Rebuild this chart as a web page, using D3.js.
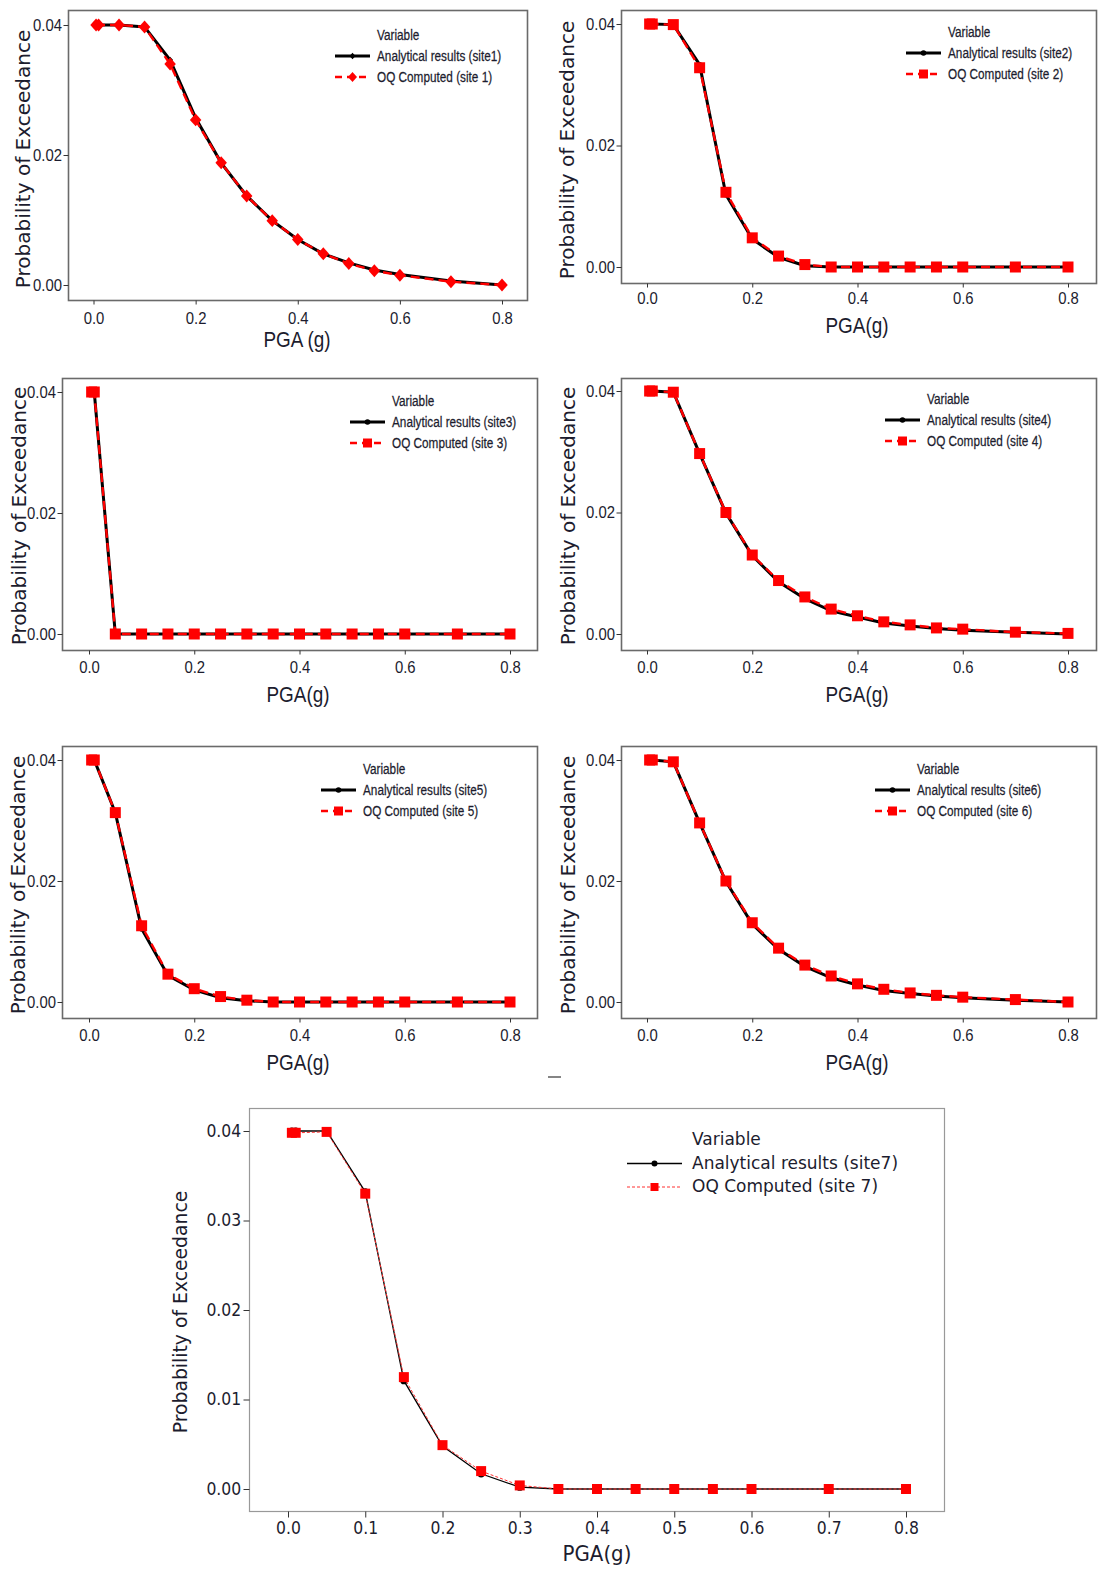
<!DOCTYPE html>
<html lang="en">
<head>
    <meta charset="UTF-8">
    <title>Hazard curves: analytical vs OQ computed</title>
    <script src="https://d3js.org/d3.v7.min.js"></script>
    <style>
        body {
            margin: 0;
            background: #fff;
        }
        svg {
            display: block;
        }
        .tick line {
            stroke: #333;
        }
        .narrow {
            font-family: "Liberation Sans", Arial, sans-serif;
        }
        .wide {
            font-family: "DejaVu Sans", Verdana, sans-serif;
        }
    </style>
</head>
<body>
<div id="chart"></div>

<script>

    // PGA levels (g), shared by all sites
    var pga = [0.005, 0.01, 0.05, 0.1, 0.15, 0.2, 0.25, 0.3, 0.35, 0.4, 0.45, 0.5, 0.55, 0.6, 0.7, 0.8];

    // probability of exceedance
    var site1Analytical = [0.0400, 0.0400, 0.0400, 0.0397, 0.0346, 0.0257, 0.0188, 0.0137, 0.0099, 0.0070, 0.0048, 0.0034, 0.0023, 0.0016, 0.0006, 0.0000];
    var site1OQ         = [0.0400, 0.0400, 0.0400, 0.0397, 0.0340, 0.0254, 0.0188, 0.0137, 0.0099, 0.0070, 0.0048, 0.0033, 0.0022, 0.0015, 0.0005, 0.0000];

    var site2Analytical = [0.0400, 0.0400, 0.0399, 0.0333, 0.0119, 0.0046, 0.0016, 0.0002, 0, 0, 0, 0, 0, 0, 0, 0];
    var site2OQ         = [0.0400, 0.0400, 0.0399, 0.0328, 0.0123, 0.0048, 0.0018, 0.0004, 0, 0, 0, 0, 0, 0, 0, 0];

    var site3Analytical = [0.0400, 0.0400, 0, 0, 0, 0, 0, 0, 0, 0, 0, 0, 0, 0, 0, 0];
    var site3OQ         = [0.0400, 0.0400, 0, 0, 0, 0, 0, 0, 0, 0, 0, 0, 0, 0, 0, 0];

    var site4Analytical = [0.0400, 0.0400, 0.0398, 0.0297, 0.0199, 0.0129, 0.0086, 0.0058, 0.0038, 0.0028, 0.0018, 0.0013, 0.0009, 0.0006, 0.0003, 0.0000];
    var site4OQ         = [0.0400, 0.0400, 0.0398, 0.0297, 0.0200, 0.0130, 0.0088, 0.0061, 0.0041, 0.0030, 0.0020, 0.0015, 0.0010, 0.0008, 0.0003, 0.0001];

    var site5Analytical = [0.0400, 0.0400, 0.0313, 0.0121, 0.0044, 0.0020, 0.0007, 0.0002, 0, 0, 0, 0, 0, 0, 0, 0];
    var site5OQ         = [0.0400, 0.0400, 0.0313, 0.0126, 0.0046, 0.0022, 0.0009, 0.0003, 0, 0, 0, 0, 0, 0, 0, 0];

    var site6Analytical = [0.0400, 0.0400, 0.0397, 0.0296, 0.0199, 0.0129, 0.0087, 0.0059, 0.0040, 0.0028, 0.0019, 0.0014, 0.0010, 0.0007, 0.0003, 0.0000];
    var site6OQ         = [0.0400, 0.0400, 0.0397, 0.0296, 0.0200, 0.0131, 0.0089, 0.0061, 0.0043, 0.0030, 0.0021, 0.0015, 0.0011, 0.0008, 0.0004, 0.0000];

    var site7Analytical = [0.0400, 0.0400, 0.0400, 0.0332, 0.0121, 0.0048, 0.0017, 0.0002, 0, 0, 0, 0, 0, 0, 0, 0];
    var site7OQ         = [0.0398, 0.0398, 0.0399, 0.0330, 0.0125, 0.0049, 0.0020, 0.0004, 0, 0, 0, 0, 0, 0, 0, 0];

    // legend entries and axis titles
    var analyticalNames = ["Analytical results (site1)", "Analytical results (site2)", "Analytical results (site3)",
        "Analytical results (site4)", "Analytical results (site5)", "Analytical results (site6)", "Analytical results (site7)"];
    var oqNames = ["OQ Computed (site 1)", "OQ Computed (site 2)", "OQ Computed (site 3)",
        "OQ Computed (site 4)", "OQ Computed (site 5)", "OQ Computed (site 6)", "OQ Computed (site 7)"];
    var xTitles = ["PGA (g)", "PGA(g)", "PGA(g)", "PGA(g)", "PGA(g)", "PGA(g)", "PGA(g)"];
    var yTitle = "Probability of Exceedance";
    var legendTitle = "Variable";

    // tick values
    var xTicksSmall = [0, 0.2, 0.4, 0.6, 0.8];
    var yTicksSmall = [0, 0.02, 0.04];
    var xTicksBig = [0, 0.1, 0.2, 0.3, 0.4, 0.5, 0.6, 0.7, 0.8];
    var yTicksBig = [0, 0.01, 0.02, 0.03, 0.04];

    var analytical = [site1Analytical, site2Analytical, site3Analytical, site4Analytical, site5Analytical, site6Analytical, site7Analytical];
    var computed = [site1OQ, site2OQ, site3OQ, site4OQ, site5OQ, site6OQ, site7OQ];

    // panel geometry: frame box, scale ranges, label positions
    var panels = [
        {frame: [68, 10, 527, 300], x: [93.5, 502], y: [285, 25], xLab: 318, xTitle: [297, 347], yTitle: [30, 159],
            legend: [335, 35, 21], marker: "diamond", big: false},
        {frame: [621, 10, 1096, 283], x: [647, 1068], y: [267, 24], xLab: 298, xTitle: [857, 333], yTitle: [574, 150],
            legend: [906, 32, 21], marker: "square", big: false},
        {frame: [62, 378, 537, 650], x: [89, 510], y: [634, 392], xLab: 667, xTitle: [298, 702], yTitle: [26, 516],
            legend: [350, 401, 21], marker: "square", big: false},
        {frame: [621, 378, 1096, 650], x: [647, 1068], y: [634, 391], xLab: 667, xTitle: [857, 702], yTitle: [575, 516],
            legend: [885, 399, 21], marker: "square", big: false},
        {frame: [62, 746, 537, 1018], x: [89, 510], y: [1002, 760], xLab: 1035, xTitle: [298, 1070], yTitle: [25, 885],
            legend: [321, 769, 21], marker: "square", big: false},
        {frame: [621, 746, 1096, 1018], x: [647, 1068], y: [1002, 760], xLab: 1035, xTitle: [857, 1070], yTitle: [575, 885],
            legend: [875, 769, 21], marker: "square", big: false},
        {frame: [249, 1108, 944, 1511], x: [288, 906], y: [1489, 1131], xLab: 1528, xTitle: [597, 1561], yTitle: [187, 1312],
            legend: [627, 1140, 23.5], marker: "square", big: true}
    ];

    var width = 1104,
        height = 1579;

    var textColor = "#1c1c2e";

    // rhombus marker used for site 1
    var rhombus = {
        draw: function (context, size) {
            var w = Math.sqrt(size) * 0.5, h = w * 1.12;
            context.moveTo(0, -h);
            context.lineTo(w, 0);
            context.lineTo(0, h);
            context.lineTo(-w, 0);
            context.closePath();
        }
    };

    var svg = d3.select("#chart").append("svg")
        .attr("width", width)
        .attr("height", height);

    panels.forEach(function (p, i) {
        drawPanel(p, i);
    });

    // small stray dash below the middle row
    svg.append("line")
        .attr("x1", 548).attr("x2", 561)
        .attr("y1", 1077).attr("y2", 1077)
        .attr("stroke", "#333").attr("stroke-width", 1.2);

    function drawPanel(p, i) {
        var g = svg.append("g");
        var big = p.big;

        var x = d3.scaleLinear().domain([0, 0.8]).range(p.x);
        var y = d3.scaleLinear().domain([0, 0.04]).range(p.y);

        // frame
        g.append("rect")
            .attr("x", p.frame[0] + 0.5)
            .attr("y", p.frame[1] + 0.5)
            .attr("width", p.frame[2] - p.frame[0])
            .attr("height", p.frame[3] - p.frame[1])
            .attr("fill", "none")
            .attr("stroke", big ? "#999" : "#6a6a6a")
            .attr("stroke-width", big ? 1.2 : 1.6);

        // axes
        var yAxis = g.append("g")
            .attr("class", big ? "wide" : "narrow")
            .attr("transform", "translate(" + (p.frame[0] + 0.5) + ",0)")
            .call(d3.axisLeft(y)
                .tickValues(big ? yTicksBig : yTicksSmall)
                .tickFormat(d3.format(".2f"))
                .tickSize(big ? 6 : 5)
                .tickPadding(big ? 3 : 2));
        var xAxis = g.append("g")
            .attr("class", big ? "wide" : "narrow")
            .attr("transform", "translate(0," + (p.frame[3] + 0.5) + ")")
            .call(d3.axisBottom(x)
                .tickValues(big ? xTicksBig : xTicksSmall)
                .tickFormat(d3.format(".1f"))
                .tickSize(big ? 6 : 4));

        [yAxis, xAxis].forEach(function (a) {
            a.select(".domain").remove();
            a.selectAll("text")
                .attr("fill", textColor)
                .style("font-size", big ? "17px" : "16px");
        });
        yAxis.selectAll("text")
            .attr("transform", big ? "scale(0.92,1)" : "scale(0.93,1)");
        xAxis.selectAll("text")
            .attr("y", 0)
            .attr("dy", "0.35em")
            .attr("transform", "translate(0," + (p.xLab - p.frame[3]) + ") scale(" + (big ? 0.92 : 0.93) + ",1)");

        // axis titles
        g.append("text")
            .attr("class", big ? "wide" : "narrow")
            .attr("transform", "translate(" + p.xTitle[0] + "," + p.xTitle[1] + ") scale(" + (big ? 0.9 : 0.86) + ",1)")
            .attr("text-anchor", "middle")
            .style("font-size", "22px")
            .attr("fill", textColor)
            .text(xTitles[i]);

        g.append("text")
            .attr("class", "wide")
            .attr("transform", "translate(" + p.yTitle[0] + "," + p.yTitle[1] + ") rotate(-90)")
            .attr("text-anchor", "middle")
            .style("font-size", big ? "18.8px" : "20px")
            .attr("fill", textColor)
            .text(yTitle);

        // curves
        var line = d3.line()
            .x(function (d) { return x(d[0]); })
            .y(function (d) { return y(d[1]); });

        var blackPts = pga.map(function (v, k) { return [v, analytical[i][k]]; });
        var redPts = pga.map(function (v, k) { return [v, computed[i][k]]; });

        g.append("path")
            .datum(blackPts)
            .attr("d", line)
            .attr("fill", "none")
            .attr("stroke", "#000")
            .attr("stroke-width", big ? 1.3 : 3);

        drawMarkers(g, blackPts, x, y, p.marker === "diamond" ? "diamond" : "circle", "#000", p.marker === "diamond" ? 6 : (big ? 3.6 : 2.8));

        g.append("path")
            .datum(redPts)
            .attr("d", line)
            .attr("fill", "none")
            .attr("stroke", big ? "#ff3030" : "#ff0000")
            .attr("stroke-width", big ? 1 : 2.4)
            .attr("stroke-dasharray", big ? "3,2" : "9,5");

        drawMarkers(g, redPts, x, y, p.marker, "#ff0000", p.marker === "diamond" ? 11.5 : (big ? 5 : 5.5));

        // legend
        var lx = p.legend[0], ly = p.legend[1], step = p.legend[2];
        var lineLen = big ? 55 : 35;
        var gap = big ? 10 : 7;
        var lg = g.append("g").attr("class", big ? "wide" : "narrow");

        var rows = [
            {name: legendTitle},
            {name: analyticalNames[i], color: "#000", width: big ? 1.3 : 3, dash: null,
                shape: p.marker === "diamond" ? "diamond" : "circle", size: p.marker === "diamond" ? 6 : (big ? 3 : 2.8)},
            {name: oqNames[i], color: big ? "#ff3030" : "#ff0000", width: big ? 1 : 2.4, dash: big ? "3,2" : "7,5",
                shape: p.marker, size: p.marker === "diamond" ? 9 : (big ? 4 : 4.5)}
        ];
        rows.forEach(function (r, k) {
            var yy = ly + step * k;
            if (k > 0) {
                lg.append("line")
                    .attr("x1", lx).attr("x2", lx + lineLen)
                    .attr("y1", yy).attr("y2", yy)
                    .attr("stroke", r.color)
                    .attr("stroke-width", r.width)
                    .attr("stroke-dasharray", r.dash);
                drawMarkers(lg, [[0, 0]], function () { return lx + lineLen / 2; }, function () { return yy; },
                    r.shape, k === 1 ? "#000" : "#ff0000", r.size);
            }
            lg.append("text")
                .attr("transform", "translate(" + (lx + lineLen + gap) + "," + (yy + 5) + ") scale(" + (big ? 1 : 0.76) + ",1)")
                .style("font-size", big ? "17px" : "15.5px")
                .attr("fill", textColor)
                .attr("stroke", big ? null : textColor)
                .attr("stroke-width", big ? null : 0.25)
                .text(r.name);
        });
    }

    function drawMarkers(g, pts, x, y, shape, color, r) {
        var type, area;
        if (shape === "diamond") {
            type = rhombus;
            area = r * r;
        } else if (shape === "circle") {
            type = d3.symbolCircle;
            area = Math.PI * r * r;
        } else {
            type = d3.symbolSquare;
            area = 4 * r * r;
        }
        g.selectAll(null)
            .data(pts)
            .enter().append("path")
            .attr("d", d3.symbol().type(type).size(area))
            .attr("transform", function (d) { return "translate(" + x(d[0]) + "," + y(d[1]) + ")"; })
            .attr("fill", color);
    }

</script>
</body>
</html>
